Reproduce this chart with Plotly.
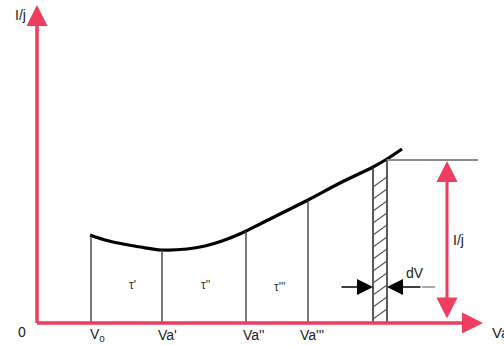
import plotly.graph_objects as go

# Curve I/j as a function of V (data units, origin at the axes corner)
curve_v = [53, 68, 86, 103, 125, 150, 168, 185, 205, 225, 245, 271, 303, 336, 350, 365]
curve_i = [88, 83, 79, 76, 73, 74, 77, 82, 90, 100, 110, 123, 140, 156, 164, 174]

# Vertical division lines and their labels
v_pos = [54, 125, 209, 271]
v_top = [88, 73, 92, 123]
v_labels = ["V<sub>0</sub>", "Va'", "Va''", "Va'''"]
v_label_x = [60, 130, 216, 275]

# Residence times between the divisions
tau_labels = ["τ'", "τ''", "τ'''"]
tau_x = [95, 168, 243]
tau_y = [38, 38, 36]

# Hatched strip dV
strip_left, strip_right = 336, 350
strip_top_left, strip_top_right = 156, 164
level_i = 163

PINK = "#ee3d5e"
INK = "#222222"

fig = go.Figure()

# main curve
fig.add_trace(go.Scatter(x=curve_v, y=curve_i, mode="lines", line=dict(color="black", width=3.2, shape="spline"),
                         hoverinfo="skip", showlegend=False))

shapes = []
for xv, top in zip(v_pos, v_top):
    shapes.append(dict(type="line", x0=xv, x1=xv, y0=0, y1=top, line=dict(color="#333333", width=1.3)))

# strip borders
shapes.append(dict(type="line", x0=strip_left, x1=strip_left, y0=0, y1=strip_top_left,
                   line=dict(color="#333333", width=1.6)))
shapes.append(dict(type="line", x0=strip_right, x1=strip_right, y0=0, y1=strip_top_right,
                   line=dict(color="#333333", width=1.6)))
# hatching
step = 12
rise = 10
y0 = 4
while y0 + rise < strip_top_left:
    shapes.append(dict(type="line", x0=strip_left, x1=strip_right, y0=y0, y1=y0 + rise,
                       line=dict(color="#555555", width=1.1)))
    y0 += step

# level line right of the strip
shapes.append(dict(type="line", x0=strip_right, x1=441, y0=level_i, y1=level_i,
                   line=dict(color="#8a8a8a", width=2)))
# gray tail of the right dV arrow
shapes.append(dict(type="line", x0=385, x1=398, y0=36, y1=36, line=dict(color="#8a8a8a", width=1.5)))

annotations = []


def arrow(tip, tail, color, width, size, side="end"):
    annotations.append(dict(x=tip[0], y=tip[1], ax=tail[0], ay=tail[1], xref="x", yref="y", axref="x", ayref="y",
                            text="", showarrow=True, arrowhead=2, arrowsize=size, arrowwidth=width,
                            arrowcolor=color, arrowside=side, standoff=0, startstandoff=0))


# axes
arrow((0, 318), (0, -1.5), PINK, 3.5, 1.2)
arrow((446, 0), (-1.5, 0), PINK, 3.5, 1.2)
# I/j double arrow
arrow((410, 162), (410, 3), PINK, 3, 1.4, side="end+start")
# dV arrows
arrow((strip_left, 36), (303, 36), "black", 1.6, 2.0)
arrow((strip_right, 36), (385, 36), "black", 1.6, 2.0)


def label(x, y, text, size=14, anchor="center", color=INK):
    annotations.append(dict(x=x, y=y, xref="x", yref="y", text=text, showarrow=False, xanchor=anchor,
                            font=dict(family="Liberation Sans, Arial", size=size, color=color)))


label(-17, 308, "I/j", 14)
label(-15, -9, "0", 14)
label(421, 83, "I/j", 14)
label(378, 50, "dV", 14)
label(453, -9, "Va", 15, anchor="left")
for lx, t in zip(v_label_x, v_labels):
    label(lx, -12, t, 14)
for tx, ty, t in zip(tau_x, tau_y, tau_labels):
    label(tx, ty, t, 12, color="#333333")

fig.update_layout(
    width=504,
    height=345,
    margin=dict(l=0, r=0, t=0, b=0),
    paper_bgcolor="white",
    plot_bgcolor="white",
    shapes=shapes,
    annotations=annotations,
    xaxis=dict(range=[-37, 467], visible=False, fixedrange=True),
    yaxis=dict(range=[-22, 323], visible=False, fixedrange=True),
)

# page body has a default margin; drop it so the figure sits at the window corner
fig.write_html("out.html", config={"displayModeBar": False}, post_script="document.body.style.margin='0';")
